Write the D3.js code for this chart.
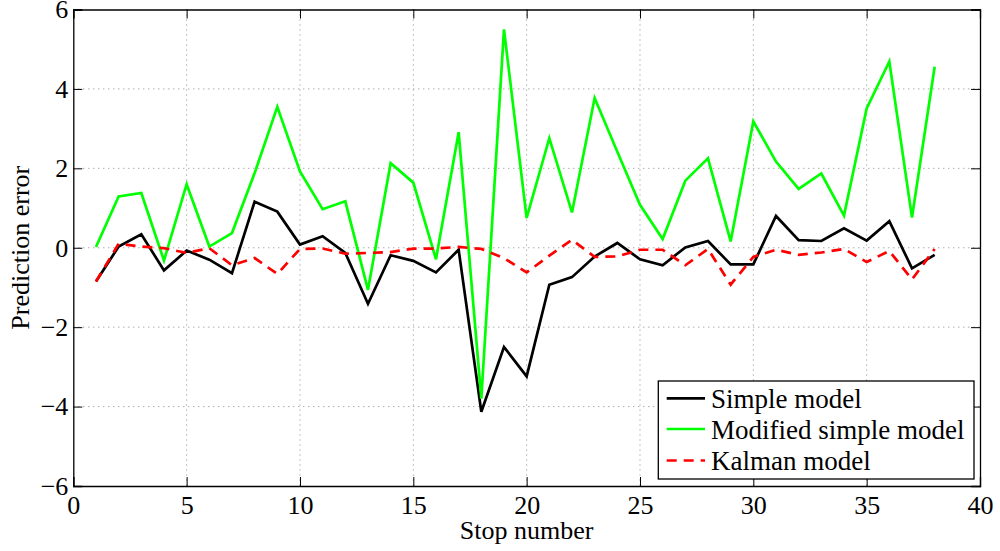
<!DOCTYPE html>
<html>
<head>
<meta charset="utf-8">
<script src="https://cdn.jsdelivr.net/npm/d3@7"></script>
<style>
  body { margin: 0; background: #fff; }
  svg { display: block; }
  svg text { font-family: "Liberation Serif", "DejaVu Serif", serif !important; fill: #000; }
</style>
</head>
<body>
<svg id="chart" width="1000" height="551"></svg>
<script>
// stop numbers 1..38
const stops = d3.range(1, 39);

const simpleModel = [-0.85, 0.03, 0.34, -0.57, -0.07, -0.30, -0.64, 1.16, 0.91, 0.08,
  0.29, -0.13, -1.41, -0.19, -0.33, -0.62, -0.05, -4.13, -2.50, -3.24,
  -0.93, -0.74, -0.22, 0.12, -0.29, -0.44, 0.01, 0.17, -0.42, -0.42,
  0.80, 0.19, 0.17, 0.49, 0.18, 0.67, -0.52, -0.18];

const modifiedModel = [0.02, 1.29, 1.38, -0.32, 1.60, 0.03, 0.37, 1.88, 3.55, 1.92,
  0.97, 1.17, -1.06, 2.13, 1.64, -0.29, 2.91, -3.80, 5.50, 0.75,
  2.76, 0.89, 3.77, 2.42, 1.08, 0.22, 1.69, 2.25, 0.16, 3.18,
  2.17, 1.48, 1.87, 0.81, 3.51, 4.69, 0.76, 4.56];

const kalmanModel = [-0.85, 0.10, 0.03, -0.01, -0.13, -0.01, -0.44, -0.26, -0.66, -0.03,
  -0.02, -0.15, -0.13, -0.11, -0.02, -0.02, 0.02, -0.03, -0.26, -0.62,
  -0.20, 0.20, -0.23, -0.22, -0.05, -0.05, -0.44, -0.03, -0.93, -0.23,
  -0.05, -0.18, -0.12, -0.03, -0.36, -0.08, -0.80, -0.03];

const xTicks = [0, 5, 10, 15, 20, 25, 30, 35, 40];
const yTicks = [-6, -4, -2, 0, 2, 4, 6];

const series = [
  { name: 'Simple model', values: simpleModel, color: '#000000', dash: null },
  { name: 'Modified simple model', values: modifiedModel, color: '#00ff00', dash: null },
  { name: 'Kalman model', values: kalmanModel, color: '#ff0000', dash: '10,7' }
];

const svg = d3.select('#chart');
const margin = { top: 9.5, right: 20, bottom: 65, left: 73.3 };
const width = 1000, height = 551;
const innerWidth = width - margin.left - margin.right;
const innerHeight = height - margin.top - margin.bottom;

const x = d3.scaleLinear().domain([0, 40]).range([0, innerWidth]);
const y = d3.scaleLinear().domain([-6, 6]).range([innerHeight, 0]);

const g = svg.append('g').attr('transform', `translate(${margin.left},${margin.top})`);

// grid
g.append('g')
  .selectAll('line')
  .data(xTicks.slice(1, -1))
  .join('line')
  .attr('x1', d => x(d)).attr('x2', d => x(d))
  .attr('y1', 0).attr('y2', innerHeight)
  .attr('stroke', '#888').attr('stroke-width', 1).attr('stroke-dasharray', '1,4');

g.append('g')
  .selectAll('line')
  .data(yTicks.slice(1, -1))
  .join('line')
  .attr('y1', d => y(d)).attr('y2', d => y(d))
  .attr('x1', 0).attr('x2', innerWidth)
  .attr('stroke', '#888').attr('stroke-width', 1).attr('stroke-dasharray', '1,4');

// axes, ticks pointing inward (box on)
const xAxis = g.append('g').attr('transform', `translate(0,${innerHeight})`)
  .call(d3.axisBottom(x).tickValues(xTicks).tickSize(-9).tickPadding(10).tickFormat(d3.format('d')));
g.append('g')
  .call(d3.axisTop(x).tickValues(xTicks).tickSize(-9).tickFormat(''));

const yFmt = d => (d < 0 ? '\u2212' + Math.abs(d) : String(d));
const yAxis = g.append('g')
  .call(d3.axisLeft(y).tickValues(yTicks).tickSize(-9).tickPadding(5).tickFormat(yFmt));
g.append('g').attr('transform', `translate(${innerWidth},0)`)
  .call(d3.axisRight(y).tickValues(yTicks).tickSize(-9).tickFormat(''));

g.selectAll('.tick text').attr('font-size', 26);
g.selectAll('.domain').attr('stroke', '#000').attr('stroke-width', 1.3);
g.selectAll('.tick line').attr('stroke', '#000').attr('stroke-width', 1);

// lines
const line = d3.line().x((d, i) => x(stops[i])).y(d => y(d));
series.forEach(s => {
  g.append('path')
    .datum(s.values)
    .attr('d', line)
    .attr('fill', 'none')
    .attr('stroke', s.color)
    .attr('stroke-width', 2.7)
    .attr('stroke-linejoin', 'miter')
    .attr('stroke-dasharray', s.dash);
});

// axis labels
svg.append('text')
  .attr('x', margin.left + innerWidth / 2).attr('y', 539)
  .attr('text-anchor', 'middle').attr('font-size', 26)
  .text('Stop number');

svg.append('text')
  .attr('transform', `translate(29,${margin.top + innerHeight / 2}) rotate(-90)`)
  .attr('text-anchor', 'middle').attr('font-size', 26)
  .text('Prediction error');

// legend
const legend = svg.append('g');
legend.append('rect')
  .attr('x', 658.3).attr('y', 381).attr('width', 315.7).attr('height', 98)
  .attr('fill', '#fff').attr('stroke', '#000').attr('stroke-width', 1.3);

const rowY = [398.3, 429, 460.5];
series.forEach((s, i) => {
  legend.append('line')
    .attr('x1', 666.7).attr('x2', 705)
    .attr('y1', rowY[i]).attr('y2', rowY[i])
    .attr('stroke', s.color).attr('stroke-width', 2.7)
    .attr('stroke-dasharray', s.dash);
  legend.append('text')
    .attr('x', 711).attr('y', rowY[i] + 9.5)
    .attr('font-size', 27)
    .text(s.name);
});
</script>
</body>
</html>
